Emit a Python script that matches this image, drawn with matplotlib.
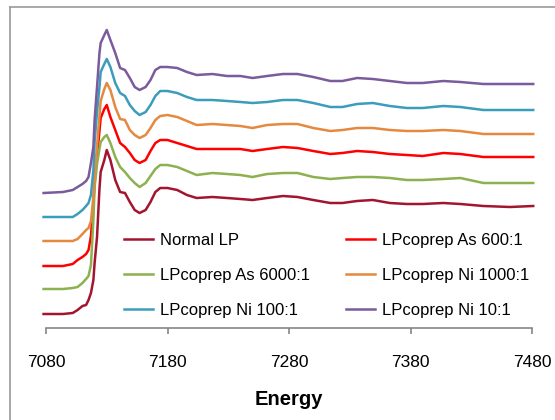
import matplotlib
matplotlib.use("Agg")
import matplotlib.pyplot as plt
from matplotlib.lines import Line2D

plt.rcParams['font.family'] = ['Liberation Sans', 'DejaVu Sans']

energy = [7078, 7094, 7102, 7106, 7110, 7113, 7115, 7117, 7119, 7120,
          7122, 7124, 7125, 7128, 7130, 7133, 7137, 7141, 7145, 7149,
          7153, 7157, 7162, 7166, 7170, 7174, 7180, 7188, 7196, 7204,
          7217, 7229, 7240, 7250, 7262, 7275, 7287, 7300, 7314, 7324,
          7336, 7349, 7363, 7377, 7390, 7407, 7421, 7440, 7462, 7481]

normal_lp = [0.14, 0.14, 0.15, 0.18, 0.22, 0.23, 0.28, 0.35, 0.48, 0.65,
             0.91, 1.39, 1.56, 1.68, 1.78, 1.68, 1.48, 1.36, 1.35, 1.26,
             1.18, 1.15, 1.18, 1.26, 1.36, 1.40, 1.40, 1.38, 1.33, 1.30,
             1.31, 1.30, 1.29, 1.28, 1.30, 1.32, 1.31, 1.28, 1.25, 1.25,
             1.27, 1.28, 1.25, 1.24, 1.24, 1.25, 1.24, 1.22, 1.21, 1.22]

as_6000 = [0.39, 0.39, 0.40, 0.41, 0.45, 0.49, 0.52, 0.63, 1.08, 1.41,
           1.64, 1.79, 1.86, 1.91, 1.93, 1.85, 1.71, 1.61, 1.56, 1.50,
           1.45, 1.41, 1.45, 1.52, 1.59, 1.63, 1.63, 1.61, 1.57, 1.53,
           1.55, 1.54, 1.53, 1.51, 1.54, 1.55, 1.55, 1.51, 1.49, 1.50,
           1.51, 1.51, 1.50, 1.48, 1.48, 1.49, 1.50, 1.45, 1.45, 1.45]

as_600 = [0.62, 0.62, 0.64, 0.68, 0.71, 0.74, 0.78, 0.92, 1.25, 1.45,
          1.72, 1.97, 2.10, 2.19, 2.23, 2.11, 1.98, 1.85, 1.81, 1.75,
          1.68, 1.65, 1.68, 1.77, 1.85, 1.88, 1.88, 1.85, 1.82, 1.79,
          1.79, 1.79, 1.79, 1.77, 1.79, 1.81, 1.80, 1.77, 1.74, 1.75,
          1.77, 1.76, 1.74, 1.73, 1.72, 1.75, 1.74, 1.71, 1.71, 1.71]

ni_1000 = [0.87, 0.87, 0.87, 0.89, 0.94, 0.98, 1.00, 1.07, 1.31, 1.51,
           1.82, 2.12, 2.27, 2.39, 2.45, 2.38, 2.21, 2.09, 2.08, 1.98,
           1.93, 1.90, 1.93, 2.00, 2.08, 2.12, 2.13, 2.11, 2.07, 2.03,
           2.04, 2.03, 2.02, 2.00, 2.03, 2.04, 2.04, 2.00, 1.97, 1.98,
           2.00, 2.00, 1.98, 1.97, 1.97, 1.98, 1.97, 1.94, 1.94, 1.94]

ni_100 = [1.11, 1.11, 1.11, 1.14, 1.18, 1.22, 1.25, 1.33, 1.58, 1.86,
          2.16, 2.41, 2.56, 2.64, 2.69, 2.61, 2.45, 2.35, 2.32, 2.23,
          2.17, 2.13, 2.16, 2.23, 2.32, 2.37, 2.37, 2.35, 2.31, 2.28,
          2.28, 2.27, 2.26, 2.25, 2.26, 2.28, 2.28, 2.25, 2.21, 2.21,
          2.24, 2.25, 2.22, 2.20, 2.20, 2.22, 2.21, 2.18, 2.18, 2.18]

ni_10 = [1.35, 1.36, 1.38, 1.41, 1.44, 1.47, 1.51, 1.65, 1.81, 2.08,
         2.41, 2.75, 2.85, 2.93, 2.98, 2.88, 2.75, 2.60, 2.58, 2.50,
         2.41, 2.38, 2.41, 2.48, 2.58, 2.61, 2.61, 2.60, 2.56, 2.53,
         2.54, 2.52, 2.52, 2.50, 2.52, 2.54, 2.54, 2.51, 2.47, 2.47,
         2.50, 2.49, 2.47, 2.45, 2.45, 2.47, 2.46, 2.44, 2.44, 2.44]

series_names = ["Normal LP", "LPcoprep As 600:1", "LPcoprep As 6000:1",
                "LPcoprep Ni 1000:1", "LPcoprep Ni 100:1", "LPcoprep Ni 10:1"]
series_values = [normal_lp, as_600, as_6000, ni_1000, ni_100, ni_10]
series_colors = ["#A3152F", "#FF0000", "#8DB050", "#E5893F", "#3C9DBA", "#7A5B9C"]

x_ticks = [7080, 7180, 7280, 7380, 7480]

W, H = 555, 420
fig = plt.figure(figsize=(W / 100, H / 100), dpi=100)
ax = fig.add_axes([46 / W, 1 - 328 / H, (532 - 46) / W, (328 - 20) / H])

handles = {}
for name, vals, col in zip(series_names, series_values, series_colors):
    ln, = ax.plot(energy, vals, color=col, lw=1.8, label=name, clip_on=False,
                  solid_joinstyle='round')
    handles[name] = ln

ax.set_xlim(7080, 7480)
ax.set_ylim(0, 3.08)
ax.set_xticks(x_ticks)
ax.set_xticklabels([str(t) for t in x_ticks])
ax.set_yticks([])
for s in ['left', 'right', 'top']:
    ax.spines[s].set_visible(False)
ax.spines['bottom'].set_color('#868686')
ax.spines['bottom'].set_linewidth(1.2)
ax.tick_params(axis='x', direction='out', length=4, width=1.2, color='#868686',
               labelsize=12.5, pad=15.5, labelcolor='black')
ax.set_xlabel("Energy", fontsize=14.5, fontweight='bold', labelpad=14)
ax.patch.set_visible(False)

order = ["Normal LP", "LPcoprep As 6000:1", "LPcoprep Ni 100:1",
         "LPcoprep As 600:1", "LPcoprep Ni 1000:1", "LPcoprep Ni 10:1"]
leg = fig.legend([handles[n] for n in order], order, ncol=2, frameon=False,
                 loc='upper left', bbox_to_anchor=(124 / W, 1 - 233 / H),
                 fontsize=12, handlelength=1.75, handletextpad=0.4,
                 columnspacing=2.15, labelspacing=1.2, borderpad=0,
                 borderaxespad=0)

# outer chart frame
fig.add_artist(Line2D([10 / W, 10 / W], [0, 1 - 7 / H], color='#9A9A9A', lw=1.2))
fig.add_artist(Line2D([10 / W, 1], [1 - 7 / H, 1 - 7 / H], color='#9A9A9A', lw=1.2))

fig.savefig("out.png", dpi=100)
